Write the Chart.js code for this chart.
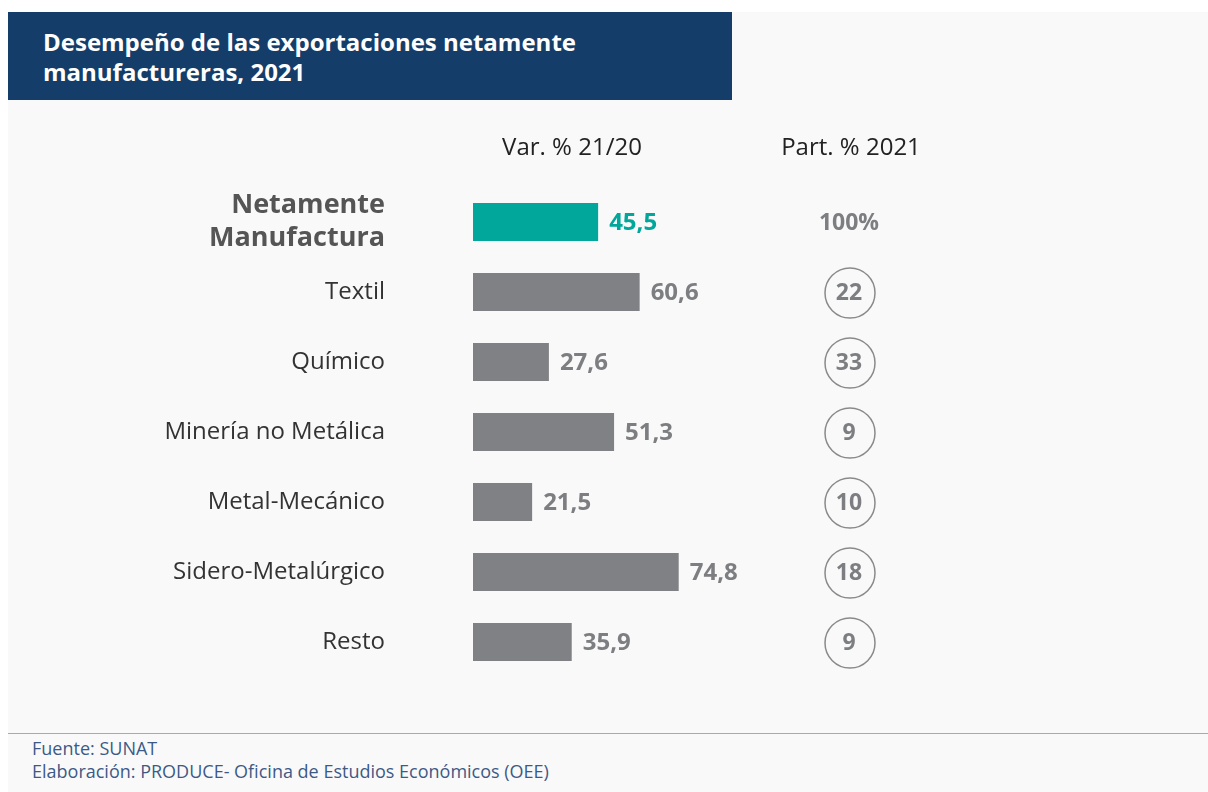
<!DOCTYPE html>
<html><head><meta charset="utf-8">
<script src="https://cdn.jsdelivr.net/npm/chart.js@4"></script>
<style>
html,body{margin:0;padding:0;background:#fff;width:1208px;height:792px;overflow:hidden;font-family:"Open Sans",sans-serif;}
#panel{position:absolute;left:8px;top:12px;width:1200px;height:780px;background:#f9f9f9;}
#title{position:absolute;left:8px;top:12px;width:724px;height:88px;background:#153d6a;color:#fff;font-weight:700;font-size:24px;line-height:30px;box-sizing:border-box;padding:15px 0 0 35px;letter-spacing:0px;}
#line{position:absolute;left:8px;top:733px;width:1200px;height:1px;background:#aaa;}
#foot{position:absolute;left:32px;top:737px;color:#3d5a86;font-size:18px;line-height:23px;}
#c{position:absolute;left:0;top:0;}
</style></head>
<body>
<div id="panel"></div>
<div id="title">Desempeño de las exportaciones netamente<br>manufactureras, 2021</div>
<div id="line"></div>
<div id="foot">Fuente: SUNAT<br>Elaboración: PRODUCE- Oficina de Estudios Económicos (OEE)</div>
<canvas id="c" width="1208" height="792"></canvas>
<script>
const categories = [["Netamente","Manufactura"],"Textil","Químico","Minería no Metálica","Metal-Mecánico","Sidero-Metalúrgico","Resto"];
const varValues = [45.5,60.6,27.6,51.3,21.5,74.8,35.9];
const varLabels = ["45,5","60,6","27,6","51,3","21,5","74,8","35,9"];
const partLabels = ["100%","22","33","9","10","18","9"];
const headers = ["Var. % 21/20","Part. % 2021"];

const TEAL="#00a79a", GRAY="#808184", TXT="#7d7e81";
const FONT='"Open Sans", sans-serif';

const overlay = {
  id:'overlay',
  afterDatasetsDraw(chart){
    const ctx=chart.ctx, meta=chart.getDatasetMeta(0), ca=chart.chartArea;
    ctx.save();
    ctx.textBaseline='middle';
    ctx.fillStyle='#222';
    ctx.font='24px '+FONT;
    ctx.textAlign='center';
    ctx.fillText(headers[0], ca.left+99, 148);
    ctx.fillText(headers[1], ca.left+378, 148);
    const px = ca.left+377;
    meta.data.forEach((bar,i)=>{
      ctx.font='bold 24px '+FONT;
      ctx.textAlign='left';
      ctx.fillStyle = i===0?TEAL:TXT;
      ctx.fillText(varLabels[i], bar.x+11, bar.y+1);
      ctx.textAlign='center';
      ctx.fillStyle=TXT;
      ctx.font='bold 23px '+FONT;
      ctx.fillText(partLabels[i], px-1, bar.y+1);
      if(i>0){
        ctx.beginPath();
        ctx.arc(px, bar.y+1, 25, 0, Math.PI*2);
        ctx.strokeStyle='#8a8a8c';
        ctx.lineWidth=1.5;
        ctx.stroke();
      }
    });
    ctx.restore();
  }
};

new Chart(document.getElementById('c'),{
  type:'bar',
  data:{labels:categories,datasets:[{data:varValues,backgroundColor:varValues.map((v,i)=>i===0?TEAL:GRAY),barPercentage:0.9,categoryPercentage:0.6}]},
  options:{
    indexAxis:'y',responsive:false,animation:false,
    layout:{padding:{left:0,top:187,bottom:115,right:460}},
    plugins:{legend:{display:false},tooltip:{enabled:false}},
    scales:{
      x:{display:false,min:0,max:100},
      y:{
        afterFit(s){s.width=473;s.paddingTop=0;s.paddingBottom=0;},
        grid:{display:false,drawTicks:false},border:{display:false},
        ticks:{
          padding:88,
          color:(c)=>c.index===0?'#555':'#333',
          font:(c)=>c.index===0?{family:FONT,size:27,weight:'bold',lineHeight:1.2}:{family:FONT,size:24,weight:'normal'}
        }
      }
    }
  },
  plugins:[overlay]
});
</script>
</body></html>
